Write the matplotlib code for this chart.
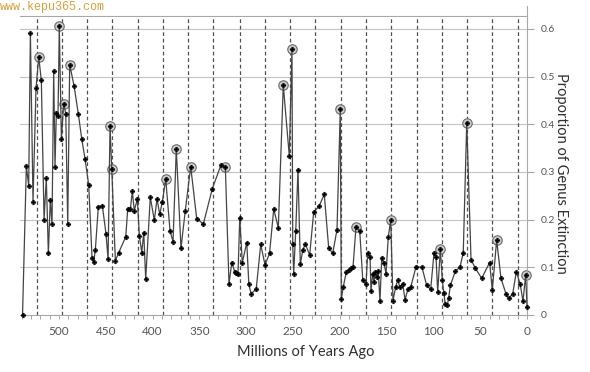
import numpy as np
import matplotlib
matplotlib.use("Agg")
import matplotlib.pyplot as plt
from matplotlib.lines import Line2D

# millions of years ago and proportion of genus extinction
ages = [539, 534.9, 532.4, 530.6, 527.8, 524.6, 521.7, 518.9, 516, 513.6, 511.4, 509.3, 507.5,
        505.7, 504.3, 502.9, 501.1, 499.7, 497.5, 495, 492.8, 490.7, 488.6, 483.9, 479.4, 475.7,
        472.2, 468.3, 464.7, 462.9, 461.2, 458, 453.7,
        449.8, 447.6, 445.5, 443.7, 439.8, 436.2, 428.7, 426.6, 423.8, 421.7, 419.6, 416.3, 414.2,
        411.6, 409.5, 407.4, 402.5, 398.2, 395.3, 392.4, 389.6, 386, 381.4, 378.2, 374.7, 369.7, 365.1,
        359.3, 352.9, 345.8, 336.2, 326.9, 322.3, 318.4, 315.4, 312.3, 310.6, 308.8, 306.9, 304.2,
        299.4, 297.2, 294.7, 289.3, 284.5, 279.9, 275.1, 270.6, 265.7,
        260.4, 254, 251.1, 250.3, 249.3, 247.1, 244.7, 242.2, 239.6, 236.9, 232.2, 227.9, 222.2,
        216.6, 211.9, 207.6, 203, 199.5, 198.4, 196.3, 193.1, 190.2, 188, 185.9, 182.7,
        178.7, 175.5, 172, 170.2, 167.7, 166.7, 164.9, 163.5, 162.1, 160.6, 158.9, 157.1, 155.2,
        152.8, 150.6, 148.2, 145.6, 143.2, 140.3, 138.1, 135.7, 132.8, 130.3, 127.1, 124.3, 118.6,
        112.2, 107.2, 102.9, 99.4, 97.2, 95.4, 92.6,
        90.5, 89, 87.3, 85.1, 83.7, 81.9, 76.6, 71.6, 68.1, 64.4, 59.8, 55.2, 48.4, 39.9, 37.1,
        32.4, 27.8, 22.4, 19.6, 15.3, 11.4, 7.2, 4.3, 1.4, 0]
extinction = [0.0, 0.312, 0.271, 0.592, 0.238, 0.475, 0.541, 0.492, 0.200, 0.287, 0.129, 0.242, 0.190,
              0.511, 0.310, 0.423, 0.417, 0.606, 0.369, 0.443, 0.422, 0.190, 0.525, 0.480, 0.422, 0.369,
              0.327, 0.273, 0.119, 0.112, 0.137, 0.227, 0.229,
              0.170, 0.117, 0.397, 0.306, 0.114, 0.131, 0.164, 0.223, 0.222, 0.259, 0.219, 0.243, 0.166,
              0.131, 0.173, 0.075, 0.247, 0.199, 0.243, 0.211, 0.238, 0.285, 0.176, 0.154, 0.348, 0.140, 0.219,
              0.311, 0.202, 0.191, 0.265, 0.315, 0.310, 0.065, 0.110, 0.091, 0.088, 0.085, 0.204, 0.110,
              0.152, 0.064, 0.044, 0.055, 0.148, 0.105, 0.129, 0.222, 0.183,
              0.482, 0.334, 0.557, 0.148, 0.087, 0.176, 0.305, 0.106, 0.136, 0.149, 0.126, 0.216, 0.228,
              0.253, 0.141, 0.129, 0.179, 0.431, 0.034, 0.059, 0.090, 0.095, 0.098, 0.100, 0.185,
              0.176, 0.074, 0.064, 0.130, 0.121, 0.050, 0.087, 0.069, 0.090, 0.080, 0.092, 0.029, 0.120,
              0.108, 0.087, 0.164, 0.199, 0.030, 0.059, 0.073, 0.058, 0.066, 0.032, 0.055, 0.058, 0.101,
              0.100, 0.062, 0.054, 0.129, 0.121, 0.048, 0.138,
              0.074, 0.047, 0.023, 0.021, 0.036, 0.062, 0.092, 0.100, 0.131, 0.403, 0.116, 0.098, 0.077,
              0.110, 0.052, 0.157, 0.077, 0.044, 0.035, 0.044, 0.091, 0.064, 0.029, 0.084, 0.017]

# peaks marked with a ring
peak_ages = [521.7, 499.7, 495, 488.6, 445.5, 443.7, 386, 374.7, 359.3, 322.3,
             260.4, 251.1, 199.5, 182.7, 145.6, 92.6, 64.4, 32.4, 1.4]

# the ~27 Myr cycle lines
cycle_ages = [524, 497, 470, 443, 416, 389, 362, 335, 307, 280,
              253, 226, 199, 172, 145, 118, 91, 64, 37, 10]

x_ticks = [500, 450, 400, 350, 300, 250, 200, 150, 100, 50, 0]
y_ticks = [0, 0.1, 0.2, 0.3, 0.4, 0.5, 0.6]

ages = np.array(ages)
extinction = np.array(extinction)
peak_idx = [int(np.argmin(np.abs(ages - a))) for a in peak_ages]

plt.rcParams['font.family'] = ['Lato', 'DejaVu Sans']

fig = plt.figure(figsize=(5.9, 3.72), dpi=100)
ax = fig.add_axes([20 / 590, 1 - 315 / 372, 507 / 590, 299 / 372])

grid_c = '#c4c4c4'
for y in y_ticks[1:]:
    ax.axhline(y, color=grid_c, lw=0.8, zorder=1)
for a in cycle_ages:
    ax.axvline(a, color='#505050', lw=0.9, ls=(0, (3, 2.2)), zorder=1)

ax.plot(ages[peak_idx], extinction[peak_idx], 'o', ms=6.8, mfc='#cfcfcf', mec='#6a6a6a',
        mew=0.8, zorder=2, clip_on=False)
ax.plot(ages, extinction, color='#444444', lw=0.9, marker='P', ms=3.4, mfc='black',
        mec='black', mew=0.3, zorder=3, clip_on=False)

ax.set_xlim(541.7, 0)
ax.set_ylim(0, 0.627)
ax.set_xticks(x_ticks)
ax.set_xticks(np.arange(540, -1, -10), minor=True)
ax.set_yticks(y_ticks)
ax.set_yticklabels(['0', '0.1', '0.2', '0.3', '0.4', '0.5', '0.6'])

ax.yaxis.tick_right()
ax.spines['left'].set_visible(False)
for s in ['top', 'right', 'bottom']:
    ax.spines[s].set_color('#a8a8a8')
    ax.spines[s].set_linewidth(0.8)

ax.tick_params(axis='y', direction='out', length=5, width=0.8, color='#a8a8a8',
               labelsize=7.5, labelcolor='#555555', pad=5)
ax.tick_params(axis='x', which='both', direction='out', length=3, width=0.7, color='#a8a8a8',
               labelsize=8.5, labelcolor='#555555', pad=5)

# right axis line pokes above the plot frame
ax.add_line(Line2D([1, 1], [1, 1.035], transform=ax.transAxes, color='#a8a8a8', lw=0.8,
                   clip_on=False))

fig.text(306 / 590, 1 - 352 / 372, 'Millions of Years Ago', ha='center', va='center',
         fontsize=10.5, color='#303030')
fig.text(561 / 590, 1 - 173 / 372, 'Proportion of Genus Extinction', rotation=270,
         ha='center', va='center', fontsize=10.5, color='#303030')

fig.text(0.0, 1 - 7 / 372, 'www.kepu365.com', family='Liberation Mono', fontsize=8.5,
         color='#d9a03a', ha='left', va='center')

fig.savefig('out.png', dpi=100)
